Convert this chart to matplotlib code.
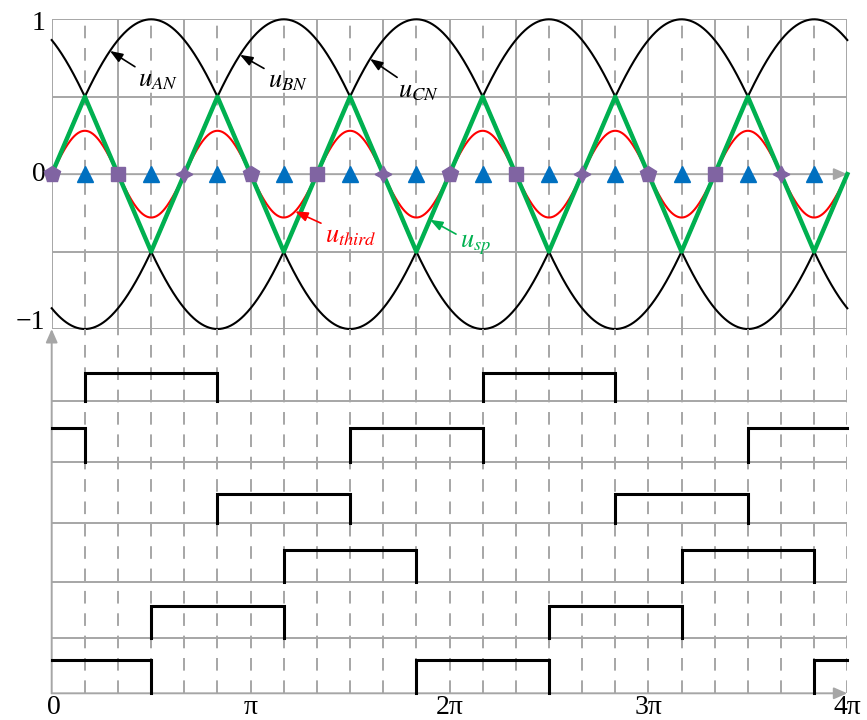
import numpy as np
import matplotlib.pyplot as plt
from matplotlib import rcParams

rcParams['font.family'] = ['Liberation Serif', 'DejaVu Serif']
rcParams['mathtext.fontset'] = 'stix'

# phase voltages: amplitude and phase shift (deg)
phase_labels = [r'$u_{AN}$', r'$u_{BN}$', r'$u_{CN}$']
phase_shift = [0, -120, -240]
phase_amp = 1.0
third_amp = 0.28

# triangular u_sp: corner angles (in pi/6 steps) and values
sp_k = [0, 1, 3, 5, 7, 9, 11, 13, 15, 17, 19, 21, 23, 24]
sp_val = [0, 0.5, -0.5, 0.5, -0.5, 0.5, -0.5, 0.5, -0.5, 0.5, -0.5, 0.5, -0.5, 0]

# markers on the zero line (pi/6 steps)
tri_k = [1, 3, 5, 7, 9, 11, 13, 15, 17, 19, 21, 23]
sector_k = [0, 2, 4, 6, 8, 10, 12, 14, 16, 18, 20, 22]
sector_mk = ['p', 's', (4, 1, 0)]
sector_ms = [12, 10, 12]

# gate signals, on-intervals in pi/6 steps (top row first)
gate_on = [
    [(1, 5), (13, 17)],
    [(0, 1), (9, 13), (21, 24)],
    [(5, 9), (17, 21)],
    [(7, 11), (19, 23)],
    [(3, 7), (15, 19)],
    [(0, 3), (11, 15), (23, 24)],
]
# row baselines / pulse heights in the lower panel (pixels)
row_base = [292.6, 231.6, 170.8, 111.0, 55.0, 0.0]
row_high = [28, 33.4, 28.5, 32, 32.6, 33]

xticks_k = [0, 1, 2, 3, 4]
xtick_lbl = ['0', 'π', '2π', '3π', '4π']

grey = '#A6A6A6'
green = '#00B050'
purple = '#8064A2'
blue = '#0070C0'
step = np.pi / 6
xmax = 4 * np.pi
dash = (0, (6.5, 5))

W, H = 867, 720
fig = plt.figure(figsize=(W / 100, H / 100), dpi=100)
ax1 = fig.add_axes([51.7 / W, (H - 329) / H, 795.6 / W, 309.7 / H])
ax2 = fig.add_axes([51.7 / W, (H - 693.3) / H, 795.6 / W, (693.3 - 329) / H])
for ax in (ax1, ax2):
    ax.set_xlim(0, xmax)
    ax.axis('off')
ax1.set_ylim(-1, 1)
ax2.set_ylim(0, 364.3)

# --- upper panel grid
for y in [-1, -0.5, 0.5, 1]:
    ax1.axhline(y, color=grey, lw=1.4, zorder=1)
for k in range(25):
    if k % 2 == 0:
        ax1.axvline(k * step, color=grey, lw=1.4, zorder=1)
    else:
        ax1.axvline(k * step, color=grey, lw=1.4, ls=dash, zorder=1)
ax1.annotate('', xy=(xmax, 0), xytext=(0, 0),
             arrowprops=dict(arrowstyle='-|>,head_length=0.8,head_width=0.35',
                             color=grey, lw=1.4, shrinkA=0, shrinkB=0), zorder=1)

t = np.linspace(0, xmax, 1200)
for sh in phase_shift:
    ax1.plot(t, phase_amp * np.sin(t + np.deg2rad(sh)), color='k', lw=1.5,
             zorder=2, clip_on=False)
ax1.plot(t, third_amp * np.sin(3 * t), color='red', lw=1.5, zorder=3)
ax1.plot(np.array(sp_k) * step, sp_val, color=green, lw=3.2, zorder=4,
         clip_on=False)

ax1.plot(np.array(tri_k) * step, np.zeros(len(tri_k)), ls='none', marker='^',
         ms=11, color=blue, zorder=5)
for i, k in enumerate(sector_k):
    ax1.plot(k * step, 0, ls='none', marker=sector_mk[i % 3],
             ms=sector_ms[i % 3], color=purple, zorder=5, clip_on=False)

arr_k = dict(arrowstyle='-|>,head_length=0.4,head_width=0.15', lw=1.2,
             shrinkA=1, shrinkB=0)
lab_pos = [(1.363, 0.60), (3.416, 0.595), (5.47, 0.531)]
lab_tip = [0.92, 2.974, 5.028]
for lab, sh, pos, xt in zip(phase_labels, phase_shift, lab_pos, lab_tip):
    ax1.annotate(lab, xy=(xt, np.sin(xt + np.deg2rad(sh))), xytext=pos,
                 ha='left', va='center', fontsize=19, color='k',
                 arrowprops=dict(color='k', **arr_k), zorder=6)
ax1.annotate(r'$u_{third}$', xy=(3.845, third_amp * np.sin(3 * 3.845)),
             xytext=(4.317, -0.405), ha='left', va='center', fontsize=19,
             color='red', arrowprops=dict(color='red', **arr_k), zorder=6)
xs = 5.975
ax1.annotate(r'$u_{sp}$', xy=(xs, np.interp(xs, np.array(sp_k) * step, sp_val)),
             xytext=(6.449, -0.457), ha='left', va='center', fontsize=19,
             color=green, arrowprops=dict(color=green, **arr_k), zorder=6)

for lbl, yc in [('1', 0.976), ('0', 0), ('−1', -0.955)]:
    ax1.text(-0.1, yc, lbl, ha='right', va='center', fontsize=20)

# --- lower panel: gate signals
for k in range(1, 25):
    ax2.axvline(k * step, color=grey, lw=1.4, ls=dash, zorder=1)
for b in row_base[:-1]:
    ax2.axhline(b, color=grey, lw=1.4, zorder=1)
ax2.annotate('', xy=(xmax, 0), xytext=(0, 0),
             arrowprops=dict(arrowstyle='-|>,head_length=0.8,head_width=0.35',
                             color=grey, lw=1.4, shrinkA=0, shrinkB=0))
ax2.annotate('', xy=(0, 364.3), xytext=(0, 0),
             arrowprops=dict(arrowstyle='-|>,head_length=0.8,head_width=0.35',
                             color=grey, lw=1.4, shrinkA=0, shrinkB=0))

for ons, b, h in zip(gate_on, row_base, row_high):
    for a, e in ons:
        xa, xe = a * step, e * step
        xsq, ysq = [], []
        if a > 0:
            xsq.append(xa); ysq.append(b)
        xsq += [xa, xe]; ysq += [b + h, b + h]
        if e < 24:
            xsq.append(xe); ysq.append(b)
        ax2.plot(xsq, ysq, color='k', lw=2.2, zorder=3, clip_on=False,
                 solid_joinstyle='miter')

for k, lbl in zip(xticks_k, xtick_lbl):
    ax2.text(k * np.pi + (0.04 if k == 0 else 0), -14, lbl, ha='center',
             va='center', fontsize=20)

fig.savefig('out.png', dpi=100)
